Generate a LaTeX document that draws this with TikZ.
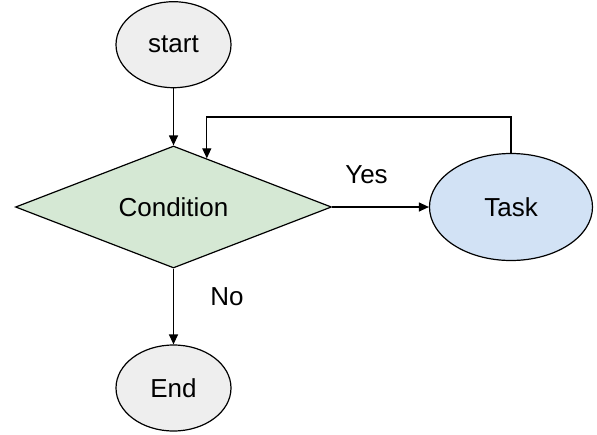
\documentclass[tikz,border=0pt]{standalone}
\usepackage{fontspec}
\setmainfont{Liberation Sans}
\usetikzlibrary{shapes.geometric,arrows.meta,calc}
\definecolor{termfill}{HTML}{EEEEEE}
\definecolor{condfill}{HTML}{D5E8D4}
\definecolor{taskfill}{HTML}{D2E2F5}
\tikzset{
  every node/.style={font=\fontsize{26}{30}\selectfont, inner sep=0pt},
  term/.style={ellipse, draw=black, line width=1.2pt, fill=termfill, minimum width=115pt, minimum height=86pt},
  cond/.style={diamond, aspect=3, draw=black, line width=1.2pt, fill=condfill, minimum width=316pt, minimum height=122pt},
  taskbox/.style={ellipse, draw=black, line width=1.2pt, fill=taskfill, minimum width=163pt, minimum height=107pt},
  conn/.style={draw=black, line width=1.2pt, -{Triangle[length=10pt,width=9pt]}},
  lbl/.style={}
}
\begin{document}
\begin{tikzpicture}[x=1pt,y=-1pt]
\useasboundingbox (0,0) rectangle (597,434);
\node[term] (start) at (173.5,44.7) {start};
\node[cond] (dia) at (173.5,207) {Condition};
\node[taskbox] (task) at (511,207) {Task};
\node[term] (end) at (173.5,388) {End};
\coordinate (loopin) at ($(dia.north)!0.21!(dia.east)$);
\draw[conn] (start) -- (dia.north);
\draw[conn] (dia.east) -- (task.west);
\draw[conn] (dia.south) -- (end.north);
\draw[conn] (task.north) -- ++(0,-36) -| (loopin);
\node[lbl] (yes) at (366.5,175) {Yes};
\node[lbl] (no) at (227,297) {No};
\end{tikzpicture}
\end{document}
